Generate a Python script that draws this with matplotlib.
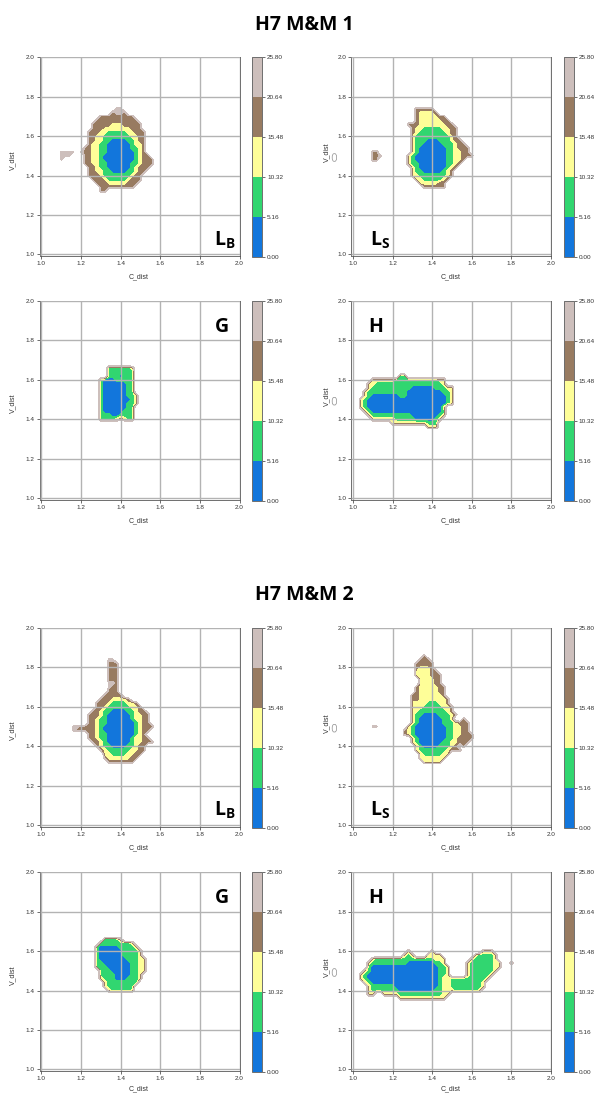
import numpy as np
import matplotlib
matplotlib.use("Agg")
import matplotlib.pyplot as plt
from matplotlib.patches import FancyBboxPatch

plt.rcParams["font.family"] = ["Liberation Sans", "DejaVu Sans"]
plt.rcParams["mathtext.fontset"] = "custom"
plt.rcParams["mathtext.bf"] = "Open Sans:bold"
plt.rcParams["mathtext.rm"] = "Open Sans"

# Free-energy band edges shared by every landscape and colour bar
LEVELS = [0.00, 5.16, 10.32, 15.48, 20.64, 25.80]
BIN = 0.02          # bin width in C_dist and V_dist
UNSAMPLED = 40.0    # value given to bins that were never visited

# Binned free-energy maps. One character per 0.02 bin, rows run from the top
# V_dist downwards, columns from the first C_dist to the right.
# Digit d = bin lies in band d (0 = lowest, 5 = above the top level); '.' = unsampled.
mm1_LB_x0, mm1_LB_top = 1.08, 1.76
mm1_LB = [
    "..........................",
    "...............44.........",
    "..............3443........",
    "...........333333333......",
    "..........33333333333.....",
    ".........3333322233333....",
    ".........3332222222333....",
    "........333221111122333...",
    "........332211111112233...",
    "........332211000011233...",
    "........322110000001223...",
    ".......3322110000001123...",
    ".4444.43322110000000123...",
    ".444...33221000000001233..",
    ".4.....332210000000012333.",
    ".......332211000000112333.",
    "........3321100000012333..",
    "........332211000011233...",
    "........33321111111233....",
    ".........3332111112333....",
    "..........33322222333.....",
    "...........333333333......",
    "...........33.............",
    "..........................",
]

mm1_LS_x0, mm1_LS_top = 1.08, 1.76
mm1_LS = [
    "............................",
    "............33333...........",
    "............322223..........",
    "............32222233........",
    "............322222233.......",
    "..........333222222233......",
    "...........322111112233.....",
    "...........321111111233.....",
    "...........211111111123.....",
    "...........2111000111233....",
    "...........21100000111233...",
    "...........210000000112333..",
    ".33........210000000112233..",
    ".334......21000000001122333.",
    ".33.......210000000011223...",
    "..........21100000001123....",
    "...........210000000123.....",
    "...........21100000123......",
    "...........22111111123......",
    "............221111123.......",
    ".............2222233........",
    "..............333333........",
    "............................",
]

mm1_G_x0, mm1_G_top = 1.26, 1.70
mm1_G = [
    "..............",
    "..............",
    "....1111112...",
    "....1111111...",
    "....1110111...",
    "..100011111...",
    "..100000011...",
    "..100000011...",
    "..100000011...",
    "..1000000112..",
    "..1000000012..",
    "..1000000112..",
    "..100000011...",
    "..100000111...",
    "..111001111...",
    "..111123211...",
    "..............",
]

mm1_H_x0, mm1_H_top = 1.02, 1.64
mm1_H = [
    "..........................",
    "...........11.............",
    "....2222221111111111122...",
    "...22111111111111111112...",
    "...2111111111100000011122.",
    "..21111111111000000000112.",
    "..21000000011000000000012.",
    ".210000000000000000000012.",
    ".210000000000000000000012.",
    ".2100000000000000000002...",
    "..210000000000000000001...",
    "...21111111111000000012...",
    "....222222111110000012....",
    ".........222222222111.....",
    "..................222.....",
    "..........................",
]

mm2_LB_x0, mm2_LB_top = 1.14, 1.86
mm2_LB = [
    ".......................",
    "..........44...........",
    "..........333..........",
    "..........333..........",
    "..........333..........",
    "..........333..........",
    "..........333..........",
    "..........443..........",
    "..........433..........",
    "..........333..........",
    ".........33333.........",
    "........33322223.......",
    ".......33321111223.....",
    ".......332111111223....",
    "......33211000011233...",
    ".....3332100000012233..",
    ".....3321100000012233..",
    ".....3321100000001233..",
    ".443333210000000012333.",
    ".43333321000000001233..",
    ".....332110000000123...",
    ".....3321100000012233..",
    "......3321000000122333.",
    ".......3211000011233...",
    "........321111112233...",
    ".........2211112233....",
    ".........322222233.....",
    "..........3333333......",
    ".......................",
]

mm2_LS_x0, mm2_LS_top = 1.08, 1.88
mm2_LS = [
    "............................",
    "..............3.............",
    ".............333............",
    "............33333...........",
    "............32223...........",
    "............222233..........",
    "............2222333.........",
    ".............222233.........",
    ".............222233.........",
    "............32222233........",
    "............32222233........",
    "...........332222223........",
    "...........3322222223.......",
    "...........2222111223.......",
    "...........22211111223......",
    "...........22111111123......",
    "...........211000011123.....",
    "...........21000000112..3...",
    "...........210000001112333..",
    ".44.......2100000000112233..",
    ".........32100000000112233..",
    ".........321000000001122333.",
    "...........2100000001123333.",
    "...........210000001122333..",
    "............2100001112353...",
    "............211111112333....",
    ".............21111122.......",
    ".............2222222........",
    "..............22222.........",
    "............................",
]

mm2_G_x0, mm2_G_top = 1.24, 1.70
mm2_G = [
    "................",
    "................",
    "....11113.......",
    "...111111112....",
    "..10000011112...",
    "..100000011112..",
    "..100000011112..",
    "..1000000011122.",
    "..1100000001122.",
    "..1110000001122.",
    "...111000001122.",
    "...11110000112..",
    "...21110001112..",
    "....211111111...",
    "....21111111....",
    ".....2111112....",
    "................",
]

mm2_H_x0, mm2_H_top = 1.02, 1.64
mm2_H = [
    ".........................................",
    ".........................................",
    ".............2.....2............222......",
    "............212...2222........211112.....",
    "....2111111111111111222......2111112.....",
    "...21111111110000000112.....211111122..2.",
    "...100000000000000000112....211111122....",
    "..2100000000000000000112....21111112.....",
    ".21000000000000000000112....2111112......",
    ".210000000000000000001221111111112.......",
    "..2100000000000000000122111111112........",
    "...211111100000000000122111111112........",
    "...21111111000000000112221111112.........",
    "...22..22221111111111122.................",
    "...........222222222222..................",
    ".........................................",
]

TITLES = ["H7 M&M 1", "H7 M&M 2"]
TICKS = [1.0, 1.2, 1.4, 1.6, 1.8, 2.0]

# (bins, first C_dist, top V_dist, tag, subscript)
PANELS = [
    [(mm1_LB, mm1_LB_x0, mm1_LB_top, "L", "B"), (mm1_LS, mm1_LS_x0, mm1_LS_top, "L", "S")],
    [(mm1_G, mm1_G_x0, mm1_G_top, "G", ""), (mm1_H, mm1_H_x0, mm1_H_top, "H", "")],
    [(mm2_LB, mm2_LB_x0, mm2_LB_top, "L", "B"), (mm2_LS, mm2_LS_x0, mm2_LS_top, "L", "S")],
    [(mm2_G, mm2_G_x0, mm2_G_top, "G", ""), (mm2_H, mm2_H_x0, mm2_H_top, "H", "")],
]

GRID = np.round(np.arange(0.90, 2.1001, BIN), 4)


def free_energy(rows, x0, ytop):
    z = np.full((GRID.size, GRID.size), UNSAMPLED)
    width = len(rows[0])
    for k, row in enumerate(rows):
        assert len(row) == width, (x0, ytop, k, len(row), width)
        iy = int(round((ytop - k * BIN - GRID[0]) / BIN))
        for j, ch in enumerate(row):
            if ch == ".":
                continue
            ix = int(round((x0 + j * BIN - GRID[0]) / BIN))
            z[iy, ix] = (int(ch) + 0.5) * LEVELS[1]
    return z


W, H = 599, 1093
fig = plt.figure(figsize=(W / 100, H / 100), dpi=100)

AX_LEFT = [39.5, 351.0]
AX_W, AX_H = 200.0, 199.0
AX_TOP = [57.3, 301.0, 628.0, 872.3]
CB_LEFT = [252.3, 564.0]
CB_W = 10.0

GRID_COLOR = "#b3b3b3"
SPINE_COLOR = "#6e6e6e"
TEXT_COLOR = "#333333"

for r, row_panels in enumerate(PANELS):
    for c, (rows, x0, ytop, tag, sub) in enumerate(row_panels):
        ax = fig.add_axes([AX_LEFT[c] / W, 1 - (AX_TOP[r] + AX_H) / H, AX_W / W, AX_H / H])
        z = free_energy(rows, x0, ytop)
        cs = ax.contourf(GRID, GRID, z, levels=LEVELS, cmap="terrain")
        ax.set_xlim(0.99, 2.0)
        ax.set_ylim(0.99, 2.0)
        ax.set_xticks(TICKS)
        ax.set_yticks(TICKS)
        ax.set_xticklabels([f"{t:.1f}" for t in TICKS])
        ax.set_yticklabels([f"{t:.1f}" for t in TICKS])
        ax.set_axisbelow(False)
        ax.grid(True, color=GRID_COLOR, lw=1.0)
        ax.tick_params(labelsize=4.6, length=2.0, width=0.5, pad=1.5,
                       colors=TEXT_COLOR)
        for s in ax.spines.values():
            s.set_color(SPINE_COLOR)
            s.set_linewidth(0.7)
        ax.set_xlabel("C_dist", fontsize=5, color=TEXT_COLOR)
        # the bottom row keeps its label just inside the lower edge
        ax.xaxis.set_label_coords(0.4975, -0.086 if r < 3 else -0.068)
        ax.set_ylabel("V_dist", fontsize=5, color=TEXT_COLOR)
        if c == 0:
            ax.yaxis.set_label_coords(-0.114, 0.484)
        else:
            ax.yaxis.set_label_coords(-0.105, 0.524)
            # small boxed glyph that sits beside the right-hand V_dist labels
            fig.patches.append(FancyBboxPatch(
                (332.2 / W, 1 - (AX_TOP[r] + 104) / H), 4.4 / W, 7.6 / H,
                boxstyle="round,pad=0,rounding_size=0.003",
                transform=fig.transFigure, facecolor="white",
                edgecolor="#8c8c8c", lw=0.5))

        if tag == "L":
            tx = 0.875 if c == 0 else 0.095
            ax.text(tx, 0.055, rf"$\mathbf{{L_{sub}}}$", transform=ax.transAxes,
                    fontsize=14, ha="left", va="baseline", color="black")
        else:
            tx = 0.877 if c == 0 else 0.085
            ax.text(tx, 0.844, tag, transform=ax.transAxes, fontsize=14,
                    fontweight="bold", family="Open Sans", ha="left",
                    va="baseline", color="black")

        cax = fig.add_axes([CB_LEFT[c] / W, 1 - (AX_TOP[r] + AX_H + 1) / H,
                            CB_W / W, (AX_H + 1) / H])
        cb = fig.colorbar(cs, cax=cax, ticks=LEVELS)
        cb.ax.set_yticklabels([f"{v:.2f}" for v in LEVELS])
        cb.ax.tick_params(labelsize=4.6, length=2.0, width=0.5, pad=1.5,
                          colors=TEXT_COLOR)
        cb.outline.set_edgecolor(SPINE_COLOR)
        cb.outline.set_linewidth(0.7)

for i, title in enumerate(TITLES):
    base = 30 if i == 0 else 600
    fig.text(304 / W, 1 - base / H, title, ha="center", va="baseline",
             fontsize=14, fontweight="bold", family="Open Sans")

fig.savefig("out.png", dpi=100)
